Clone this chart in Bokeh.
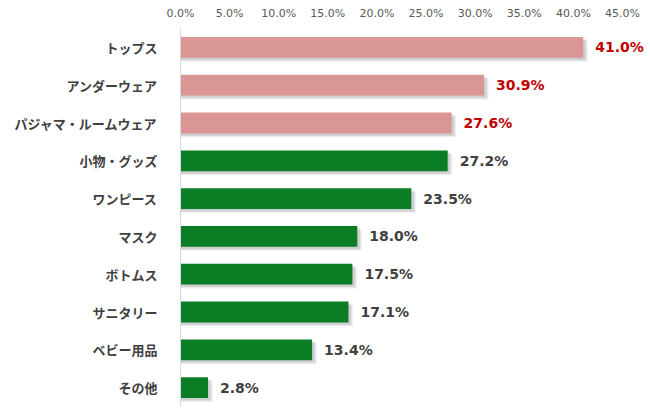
from bokeh.plotting import figure
from bokeh.models import ColumnDataSource, NumeralTickFormatter, FixedTicker, Range1d
from bokeh.transform import dodge
from bokeh.core.properties import value
from bokeh.embed import file_html
from bokeh.resources import INLINE

categories = ["トップス", "アンダーウェア", "パジャマ・ルームウェア", "小物・グッズ", "ワンピース",
              "マスク", "ボトムス", "サニタリー", "ベビー用品", "その他"]
values = [0.410, 0.309, 0.276, 0.272, 0.235, 0.180, 0.175, 0.171, 0.134, 0.028]
labels = ["41.0%", "30.9%", "27.6%", "27.2%", "23.5%", "18.0%", "17.5%", "17.1%", "13.4%", "2.8%"]
bar_colors = ["#D99694"] * 3 + ["#0A7D25"] * 7
label_colors = ["#C00000"] * 3 + ["#404040"] * 7
ticks = [0.0, 0.05, 0.10, 0.15, 0.20, 0.25, 0.30, 0.35, 0.40, 0.45]

src = ColumnDataSource(dict(cat=categories, v=values, lab=labels, bc=bar_colors, lc=label_colors))

p = figure(width=650, height=416, y_range=list(reversed(categories)),
           x_range=Range1d(0, 0.4785), x_axis_location="above",
           output_backend="svg", toolbar_location=None,
           min_border_left=180, min_border_right=0, min_border_top=28, min_border_bottom=10)
p.outline_line_color = None
p.grid.grid_line_color = None
p.background_fill_color = "white"

# soft shadows
for dx, dy, a in [(0.0050, 0.11, 0.08), (0.0038, 0.085, 0.14), (0.0026, 0.06, 0.2)]:
    p.hbar(y=dodge("cat", -dy, range=p.y_range), left=0, right=dodge("v", dx), height=0.55,
           source=src, fill_color="#7F7F7F", fill_alpha=a, line_color=None)

p.hbar(y="cat", left=0, right="v", height=0.55, source=src,
       fill_color="bc", line_color=None)

p.text(x="v", y="cat", text="lab", source=src, x_offset=12,
       text_color="lc", text_font=value("DejaVu Sans"), text_font_style="bold",
       text_font_size="14px", text_baseline="middle", text_align="left")

xa = p.xaxis[0]
xa.ticker = FixedTicker(ticks=ticks)
xa.formatter = NumeralTickFormatter(format="0.0%")
xa.axis_line_color = None
xa.major_tick_line_color = None
xa.minor_tick_line_color = None
xa.major_label_text_font = "DejaVu Sans"
xa.major_label_text_font_size = "11px"
xa.major_label_text_color = "#595959"
xa.major_label_standoff = 3

ya = p.yaxis[0]
ya.axis_line_color = "#D9D9D9"
ya.major_tick_line_color = None
ya.minor_tick_line_color = None
ya.major_label_text_font = "Noto Sans CJK JP"
ya.major_label_text_font_size = "13px"
ya.major_label_text_font_style = "bold"
ya.major_label_text_color = "#404040"
ya.major_label_standoff = 17

open("out.html", "w").write(file_html(p, INLINE))
